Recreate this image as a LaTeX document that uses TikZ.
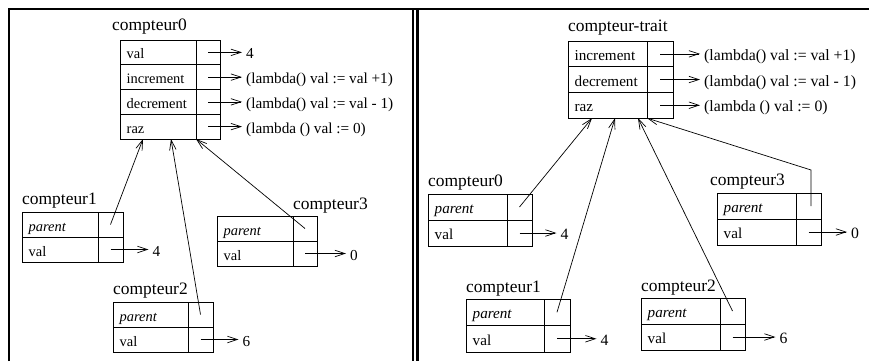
\documentclass[tikz,border=0pt]{standalone}
\usepackage{fontspec}
\setmainfont{Liberation Serif}
\usetikzlibrary{calc,arrows.meta}

\newcommand\cellrow[7]{%
  \node[cellbox, minimum width=#4bp, minimum height=#6bp, anchor=north west] (#1) at (#2,#3) {};
  \node[celltext, anchor=base west] (#1t) at ($(#1.west)+(6.5,6.5)$) {#7};
  \node[cellbox, minimum width=#5bp, minimum height=#6bp, anchor=north west] (#1p) at (#1.north east) {};
}
\newcommand\valarrow[4]{%
  \node[valtext, anchor=base west] (#2) at ($(#1p.center)+(#3,6.5)$) {#4};
  \draw[ptr] (#1p.center) -- (#2.west |- #1p.center);
}

\begin{document}
\begin{tikzpicture}[x=1bp,y=-1bp,
  cellbox/.style={draw, line width=0.8bp, inner sep=0pt, outer sep=0pt},
  celltext/.style={inner sep=0pt, font=\fontsize{14.5}{16}\selectfont},
  valtext/.style={inner xsep=4bp, inner ysep=0pt, font=\fontsize{15.3}{17}\selectfont},
  objlabel/.style={inner sep=0pt, anchor=base west, font=\fontsize{17.5}{20}\selectfont},
  ptr/.style={line width=0.7bp, -{Straight Barb[length=10bp,width=6.5bp]}},
  frame/.style={line width=2bp}]
\useasboundingbox (0,0) rectangle (869,361);

% frame
\draw[frame] (9,361) -- (9,9) -- (869,9);
\draw[frame] (413,9) -- (413,361);
\draw[line width=3bp] (417.5,9) -- (417.5,361);

% ---------------- left panel ----------------
\node[objlabel] (Lc0) at (112,30) {compteur0};
\cellrow{Lval}{120}{40}{76}{24}{24.75}{val}
\cellrow{Linc}{120}{64.75}{76}{24}{24.75}{increment}
\cellrow{Ldec}{120}{89.5}{76}{24}{24.75}{decrement}
\cellrow{Lraz}{120}{114.25}{76}{24}{24.75}{raz}
\valarrow{Lval}{Lv0}{34}{4}
\valarrow{Linc}{Lv1}{34}{(lambda() val := val +1)}
\valarrow{Ldec}{Lv2}{34}{(lambda() val := val - 1)}
\valarrow{Lraz}{Lv3}{34}{(lambda () val := 0)}

\node[objlabel] (Lc1) at (22,204) {compteur1};
\cellrow{Lapar}{22}{212}{76}{25}{25}{\textit{parent}}
\cellrow{Laval}{22}{237}{76}{25}{25}{val}
\valarrow{Laval}{Lav}{38}{4}

\node[objlabel] (Lc3) at (293,209) {compteur3};
\cellrow{Lcpar}{217}{216}{76}{24}{25}{\textit{parent}}
\cellrow{Lcval}{217}{241}{76}{24}{25}{val}
\valarrow{Lcval}{Lcv}{41}{0}

\node[objlabel] (Lc2) at (113,294) {compteur2};
\cellrow{Lbpar}{113}{302}{75}{25}{25}{\textit{parent}}
\cellrow{Lbval}{113}{327}{75}{25}{25}{val}
\valarrow{Lbval}{Lbv}{38}{6}

\coordinate (La1) at ($(Lraz.south west)+(23,0)$);
\coordinate (La2) at ($(Lraz.south west)+(51,0)$);
\coordinate (La3) at (Lrazp.south west);
\draw[ptr] (Laparp.center) -- (La1);
\draw[ptr] (Lbparp.center) -- (La2);
\draw[ptr] (Lcparp.center) -- (La3);

% ---------------- right panel ----------------
\begin{scope}[celltext/.style={inner sep=0pt, font=\fontsize{15.2}{17}\selectfont},
  valtext/.style={inner xsep=4bp, inner ysep=0pt, font=\fontsize{15.8}{18}\selectfont}]
\node[objlabel] (Rct) at (568,31) {compteur-trait};
\cellrow{Rinc}{568}{41}{79}{26}{25.7}{increment}
\cellrow{Rdec}{568}{66.7}{79}{26}{25.7}{decrement}
\cellrow{Rraz}{568}{92.4}{79}{26}{25.7}{raz}
\valarrow{Rinc}{Rv1}{40}{(lambda() val := val +1)}
\valarrow{Rdec}{Rv2}{40}{(lambda() val := val - 1)}
\valarrow{Rraz}{Rv3}{40}{(lambda () val := 0)}

\node[objlabel] (Rc0) at (428,186) {compteur0};
\cellrow{Rapar}{428}{194}{79}{25}{26}{\textit{parent}}
\cellrow{Raval}{428}{220}{79}{25}{26}{val}
\valarrow{Raval}{Rav}{37}{4}

\node[objlabel] (Rc3) at (710,185) {compteur3};
\cellrow{Rdpar}{717}{193}{79}{25}{26}{\textit{parent}}
\cellrow{Rdval}{717}{219}{79}{25}{26}{val}
\valarrow{Rdval}{Rdv}{38.5}{0}

\node[objlabel] (Rc1) at (466,292) {compteur1};
\cellrow{Rbpar}{466}{299}{78}{26}{26.5}{\textit{parent}}
\cellrow{Rbval}{466}{325.5}{78}{26}{26.5}{val}
\valarrow{Rbval}{Rbv}{39.5}{4}

\node[objlabel] (Rc2) at (641,291) {compteur2};
\cellrow{Rcpar}{641}{298}{79}{25}{26}{\textit{parent}}
\cellrow{Rcval}{641}{324}{79}{25}{26}{val}
\valarrow{Rcval}{Rcv}{43}{6}

\coordinate (Ra1) at ($(Rraz.south west)+(24,0)$);
\coordinate (Ra2) at ($(Rraz.south west)+(47,0)$);
\coordinate (Ra3) at ($(Rraz.south west)+(70,0)$);
\coordinate (Ra4) at (Rrazp.south west);
\draw[ptr] (Raparp.center) -- (Ra1);
\draw[ptr] (Rbparp.center) -- (Ra2);
\draw[ptr] (Rcparp.center) -- (Ra3);
\draw[ptr] ([xshift=2.5bp]Rdparp.center) -- ++(0,-36) -- (Ra4);
\end{scope}
\end{tikzpicture}
\end{document}
